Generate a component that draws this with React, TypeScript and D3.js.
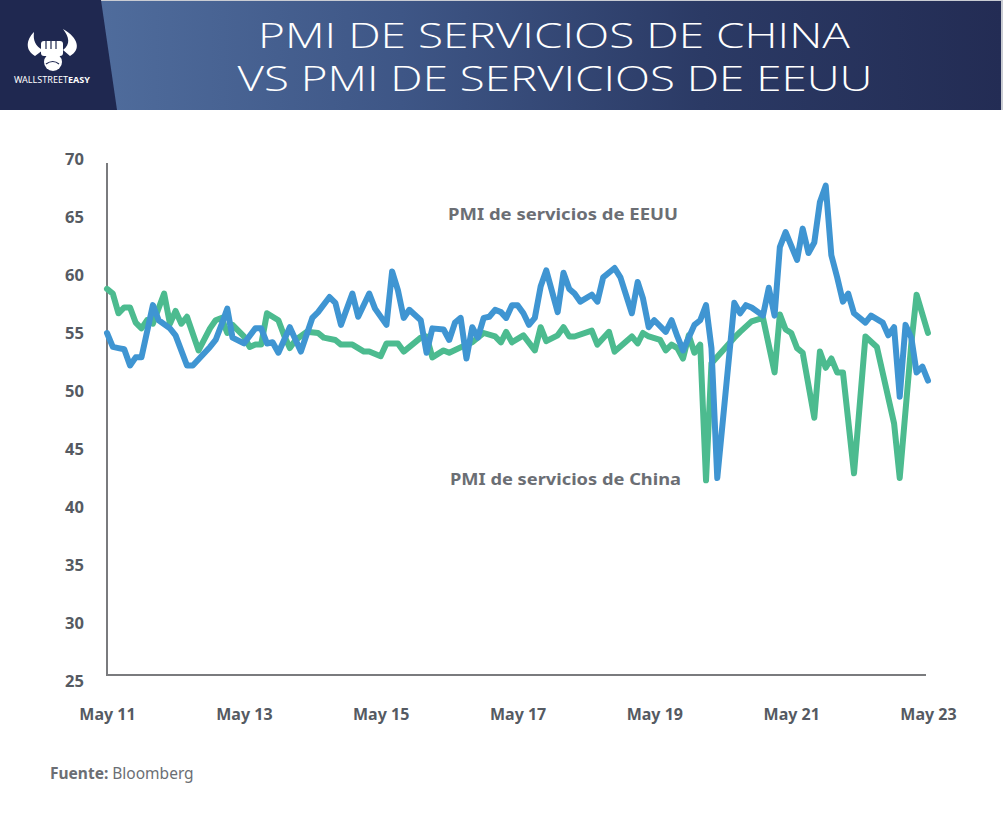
import React, { useRef, useEffect } from "react";
import * as d3 from "d3";

// PMI de servicios de EEUU (month, value)
const usPmi: [string, number][] = [
  ["2011-05", 55.0], ["2011-06", 53.8], ["2011-07", 53.7], ["2011-08", 53.6],
  ["2011-09", 52.2], ["2011-10", 52.9], ["2011-11", 52.9], ["2012-01", 57.4],
  ["2012-02", 56.1], ["2012-04", 55.4], ["2012-05", 54.8], ["2012-07", 52.2],
  ["2012-08", 52.2], ["2012-11", 53.8], ["2012-12", 54.4], ["2013-01", 55.7],
  ["2013-02", 57.1], ["2013-03", 54.6], ["2013-05", 54.1], ["2013-07", 55.4],
  ["2013-08", 55.4], ["2013-09", 54.1], ["2013-10", 54.2], ["2013-11", 53.3],
  ["2014-01", 55.5], ["2014-03", 53.4], ["2014-05", 56.3], ["2014-06", 56.8],
  ["2014-08", 58.1], ["2014-09", 57.6], ["2014-10", 55.7], ["2014-12", 58.4],
  ["2015-01", 56.4], ["2015-03", 58.4], ["2015-04", 57.1], ["2015-06", 55.7],
  ["2015-07", 60.3], ["2015-08", 58.7], ["2015-09", 56.3], ["2015-10", 57.0],
  ["2015-12", 56.1], ["2016-01", 53.3], ["2016-02", 55.4], ["2016-04", 55.3],
  ["2016-05", 54.4], ["2016-06", 55.9], ["2016-07", 56.3], ["2016-08", 52.8],
  ["2016-09", 55.5], ["2016-10", 54.6], ["2016-11", 56.3], ["2016-12", 56.4],
  ["2017-01", 57.0], ["2017-02", 56.8], ["2017-03", 56.3], ["2017-04", 57.4],
  ["2017-05", 57.4], ["2017-06", 56.7], ["2017-07", 55.7], ["2017-08", 56.3],
  ["2017-09", 59.0], ["2017-10", 60.4], ["2017-12", 56.8], ["2018-01", 60.2],
  ["2018-02", 58.8], ["2018-03", 58.4], ["2018-04", 57.7], ["2018-06", 58.3],
  ["2018-07", 57.7], ["2018-08", 59.8], ["2018-10", 60.6], ["2018-11", 59.8],
  ["2019-01", 56.7], ["2019-02", 59.4], ["2019-03", 58.0], ["2019-04", 55.5],
  ["2019-05", 56.1], ["2019-07", 55.1], ["2019-08", 56.1], ["2019-09", 54.7],
  ["2019-10", 53.5], ["2019-12", 55.7], ["2020-01", 56.1], ["2020-02", 57.4],
  ["2020-03", 53.7], ["2020-04", 42.5], ["2020-07", 57.6], ["2020-08", 56.7],
  ["2020-09", 57.4], ["2020-10", 57.2], ["2020-12", 56.5], ["2021-01", 58.9],
  ["2021-02", 56.5], ["2021-03", 62.4], ["2021-04", 63.7], ["2021-06", 61.3],
  ["2021-07", 64.0], ["2021-08", 61.9], ["2021-09", 62.8], ["2021-10", 66.3],
  ["2021-11", 67.7], ["2021-12", 61.7], ["2022-01", 59.8], ["2022-02", 57.7],
  ["2022-03", 58.4], ["2022-04", 56.7], ["2022-06", 55.9], ["2022-07", 56.5],
  ["2022-09", 55.9], ["2022-10", 54.8], ["2022-11", 55.5], ["2022-12", 49.5],
  ["2023-01", 55.7], ["2023-02", 54.6], ["2023-03", 51.6], ["2023-04", 52.1],
  ["2023-05", 50.9],
];

// PMI de servicios de China (month, value)
const chinaPmi: [string, number][] = [
  ["2011-05", 58.8], ["2011-06", 58.4], ["2011-07", 56.7], ["2011-08", 57.2],
  ["2011-09", 57.2], ["2011-10", 55.9], ["2011-11", 55.4], ["2011-12", 56.1],
  ["2012-01", 55.8], ["2012-03", 58.4], ["2012-04", 55.8], ["2012-05", 56.9],
  ["2012-06", 55.8], ["2012-07", 56.4], ["2012-09", 53.5], ["2012-11", 55.4],
  ["2012-12", 56.1], ["2013-01", 56.3], ["2013-02", 55.0], ["2013-03", 55.7],
  ["2013-05", 54.7], ["2013-06", 53.8], ["2013-07", 54.0], ["2013-08", 54.0],
  ["2013-09", 56.7], ["2013-11", 56.1], ["2013-12", 54.8], ["2014-01", 53.7],
  ["2014-02", 54.4], ["2014-04", 55.1], ["2014-06", 55.0], ["2014-07", 54.6],
  ["2014-09", 54.4], ["2014-10", 54.0], ["2014-12", 54.0], ["2015-02", 53.4],
  ["2015-03", 53.4], ["2015-05", 53.0], ["2015-06", 54.1], ["2015-08", 54.1],
  ["2015-09", 53.4], ["2015-12", 54.6], ["2016-01", 54.7], ["2016-02", 52.9],
  ["2016-04", 53.5], ["2016-05", 53.3], ["2016-08", 54.0], ["2016-09", 54.2],
  ["2016-11", 55.0], ["2017-01", 54.7], ["2017-02", 54.2], ["2017-03", 55.1],
  ["2017-04", 54.2], ["2017-06", 54.8], ["2017-08", 53.5], ["2017-09", 55.5],
  ["2017-10", 54.3], ["2017-12", 54.8], ["2018-01", 55.5], ["2018-02", 54.7],
  ["2018-03", 54.7], ["2018-06", 55.2], ["2018-07", 54.0], ["2018-09", 55.1],
  ["2018-10", 53.4], ["2019-01", 54.7], ["2019-02", 54.1], ["2019-03", 55.0],
  ["2019-04", 54.7], ["2019-06", 54.4], ["2019-07", 53.5], ["2019-08", 54.0],
  ["2019-09", 53.7], ["2019-10", 52.8], ["2019-11", 54.8], ["2019-12", 53.3],
  ["2020-01", 54.0], ["2020-02", 42.3], ["2020-03", 52.4], ["2020-07", 54.6],
  ["2020-08", 55.1], ["2020-10", 56.0], ["2020-12", 56.3], ["2021-02", 51.6],
  ["2021-03", 56.6], ["2021-04", 55.3], ["2021-05", 55.0], ["2021-06", 53.7],
  ["2021-07", 53.3], ["2021-09", 47.7], ["2021-10", 53.4], ["2021-11", 52.0],
  ["2021-12", 52.8], ["2022-01", 51.6], ["2022-02", 51.6], ["2022-04", 42.9],
  ["2022-06", 54.7], ["2022-08", 53.8], ["2022-11", 47.2], ["2022-12", 42.5],
  ["2023-02", 54.1], ["2023-03", 58.3], ["2023-05", 55.0],
];

const yTicks = [25, 30, 35, 40, 45, 50, 55, 60, 65, 70];
const xTicks = ["2011-05", "2013-05", "2015-05", "2017-05", "2019-05", "2021-05", "2023-05"];

const titleLines = ["PMI DE SERVICIOS DE CHINA", "VS PMI DE SERVICIOS DE EEUU"];

const parseMonth = d3.utcParse("%Y-%m");

const App = () => {
  const svgRef = useRef<SVGSVGElement>(null);

  useEffect(() => {
    if (!svgRef.current) return;
    const svg = d3.select(svgRef.current);
    svg.selectAll("*").remove();

    const width = 1003;
    const height = 816;
    const left = 107;
    const right = 928;
    const axisY = 675;
    const axisTop = 163;

    const labelFont = "'Noto Sans', sans-serif";

    svg
      .attr("viewBox", [0, 0, width, height])
      .attr("width", width)
      .attr("height", height)
      .style("background", "#fff");

    // Header band
    const defs = svg.append("defs");
    const grad = defs
      .append("linearGradient")
      .attr("id", "hdr")
      .attr("x1", 0)
      .attr("x2", 1)
      .attr("y1", 0)
      .attr("y2", 0);
    grad.append("stop").attr("offset", "10%").attr("stop-color", "#4f6c9c");
    grad.append("stop").attr("offset", "40%").attr("stop-color", "#3e5686");
    grad.append("stop").attr("offset", "70%").attr("stop-color", "#2b3a65");
    grad.append("stop").attr("offset", "100%").attr("stop-color", "#232c54");

    svg.append("rect").attr("x", 0).attr("y", 0).attr("width", width).attr("height", 110).attr("fill", "url(#hdr)");
    svg.append("rect").attr("x", 0).attr("y", 0).attr("width", width).attr("height", 1).attr("fill", "#c9ccd3");
    svg.append("rect").attr("x", 1001).attr("y", 0).attr("width", 2).attr("height", 110).attr("fill", "#c9ccd3");
    svg
      .append("path")
      .attr("d", "M0,0H101L117,110H0Z")
      .attr("fill", "#1f2850");

    // Logo
    const logo = svg.append("g").attr("fill", "#fff");
    logo.append("path").attr("d", "M35,56 C25,50 26,40 34,32 C33,40 35,46 43,50 Z");
    logo.append("path").attr("d", "M70,56 C81,50 79,38 63,29 C69,37 71,44 63,50 Z");
    logo.append("rect").attr("x", 41).attr("y", 41).attr("width", 22).attr("height", 15).attr("rx", 3);
    logo.append("circle").attr("cx", 53).attr("cy", 62).attr("r", 9);
    logo
      .append("path")
      .attr("d", "M46,41V49M51,41V49M56,41V49M46,64 Q53,59 59,64")
      .attr("stroke", "#1f2850")
      .attr("stroke-width", 1.2)
      .attr("fill", "none");
    const brand = logo
      .append("text")
      .attr("x", 52)
      .attr("y", 83)
      .attr("text-anchor", "middle")
      .attr("font-family", labelFont)
      .attr("font-size", 9)
      .attr("textLength", 76)
      .attr("lengthAdjust", "spacingAndGlyphs");
    brand.append("tspan").text("WALLSTREET");
    brand.append("tspan").attr("font-weight", 700).text("EASY");

    // Title
    svg
      .append("g")
      .selectAll("text")
      .data(titleLines)
      .join("text")
      .attr("x", (_, i) => (i ? 555 : 554))
      .attr("y", (_, i) => (i ? 91 : 48))
      .attr("text-anchor", "middle")
      .attr("fill", "#fff")
      .attr("font-family", "'Open Sans', sans-serif")
      .attr("font-weight", 300)
      .attr("font-size", 35)
      .attr("textLength", (_, i) => (i ? 635 : 592))
      .attr("lengthAdjust", "spacingAndGlyphs")
      .text((d) => d);

    // Scales
    const x = d3.scaleUtc(
      [parseMonth("2011-05") as Date, parseMonth("2023-05") as Date],
      [left, right]
    );
    const y = d3.scaleLinear([25, 70], [681, 159]);

    // Y axis labels
    svg
      .append("g")
      .attr("transform", `translate(${left},0)`)
      .call(d3.axisLeft(y).tickValues(yTicks).tickSize(0).tickPadding(23).tickFormat(d3.format("d")))
      .call((g) => g.select(".domain").remove())
      .call((g) =>
        g
          .selectAll("text")
          .attr("fill", "#555a62")
          .attr("font-family", labelFont)
          .attr("font-weight", 700)
          .attr("font-size", 16.5)
      );

    // X axis labels
    const fmt = d3.utcFormat("May %y");
    svg
      .append("g")
      .attr("transform", `translate(0,${axisY})`)
      .call(
        d3
          .axisBottom(x)
          .tickValues(xTicks.map((d) => parseMonth(d) as Date))
          .tickSize(0)
          .tickPadding(34)
          .tickFormat((d) => fmt(d as Date))
      )
      .call((g) => g.select(".domain").remove())
      .call((g) =>
        g
          .selectAll("text")
          .attr("fill", "#555a62")
          .attr("font-family", labelFont)
          .attr("font-weight", 700)
          .attr("font-size", 16)
      );

    // Axis lines
    svg
      .append("path")
      .attr("d", `M${left},${axisTop}V${axisY}H${right - 2}`)
      .attr("fill", "none")
      .attr("stroke", "#7a7b7e")
      .attr("stroke-width", 2);

    // Lines
    const line = d3
      .line<[string, number]>()
      .x((d) => x(parseMonth(d[0]) as Date))
      .y((d) => y(d[1]));

    svg
      .append("path")
      .attr("fill", "none")
      .attr("stroke", "#4cbb8f")
      .attr("stroke-width", 6)
      .attr("stroke-linejoin", "round")
      .attr("stroke-linecap", "round")
      .attr("d", line(chinaPmi));

    svg
      .append("path")
      .attr("fill", "none")
      .attr("stroke", "#3f95d2")
      .attr("stroke-width", 6)
      .attr("stroke-linejoin", "round")
      .attr("stroke-linecap", "round")
      .attr("d", line(usPmi));

    // Series labels
    svg
      .append("text")
      .attr("x", 448)
      .attr("y", 220)
      .attr("fill", "#6b6e74")
      .attr("font-family", labelFont)
      .attr("font-weight", 700)
      .attr("font-size", 16.5)
      .attr("textLength", 230)
      .attr("lengthAdjust", "spacingAndGlyphs")
      .text("PMI de servicios de EEUU");

    svg
      .append("text")
      .attr("x", 450)
      .attr("y", 485)
      .attr("fill", "#6b6e74")
      .attr("font-family", labelFont)
      .attr("font-weight", 700)
      .attr("font-size", 16.5)
      .attr("textLength", 231)
      .attr("lengthAdjust", "spacingAndGlyphs")
      .text("PMI de servicios de China");

    // Source
    const src = svg
      .append("text")
      .attr("x", 50)
      .attr("y", 779)
      .attr("fill", "#6b6e74")
      .attr("font-family", labelFont)
      .attr("font-size", 15.5);
    src.append("tspan").attr("font-weight", 700).text("Fuente:");
    src.append("tspan").text(" Bloomberg");
  }, []);

  return (
    <svg
      ref={svgRef}
      style={{ position: "absolute", left: 0, top: 0, display: "block" }}
    ></svg>
  );
};

export default App;
